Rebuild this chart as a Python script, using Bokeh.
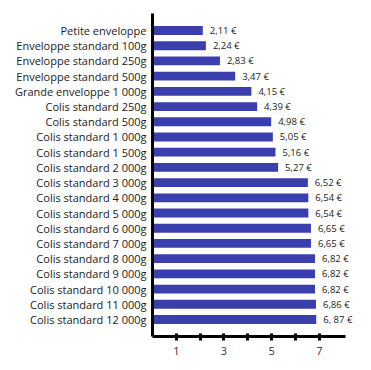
from bokeh.plotting import figure
from bokeh.models import Range1d, FactorRange, ColumnDataSource, FixedTicker, LabelSet
from bokeh.core.properties import value
from bokeh.embed import file_html
from bokeh.resources import INLINE

categories = [
    "Petite enveloppe", "Enveloppe standard 100g", "Enveloppe standard 250g",
    "Enveloppe standard 500g", "Grande enveloppe 1 000g", "Colis standard 250g",
    "Colis standard 500g", "Colis standard 1 000g", "Colis standard 1 500g",
    "Colis standard 2 000g", "Colis standard 3 000g", "Colis standard 4 000g",
    "Colis standard 5 000g", "Colis standard 6 000g", "Colis standard 7 000g",
    "Colis standard 8 000g", "Colis standard 9 000g", "Colis standard 10 000g",
    "Colis standard 11 000g", "Colis standard 12 000g",
]
prices = [2.11, 2.24, 2.83, 3.47, 4.15, 4.39, 4.98, 5.05, 5.16, 5.27,
          6.52, 6.54, 6.54, 6.65, 6.65, 6.82, 6.82, 6.82, 6.86, 6.87]
price_labels = ["2,11 €", "2,24 €", "2,83 €", "3,47 €", "4,15 €", "4,39 €",
                "4,98 €", "5,05 €", "5,16 €", "5,27 €", "6,52 €", "6,54 €",
                "6,54 €", "6,65 €", "6,65 €", "6,82 €", "6,82 €", "6,82 €",
                "6,86 €", "6, 87 €"]
tick_values = [1, 2, 3, 4, 5, 6, 7]
tick_labels = {1: "1", 2: "", 3: "3", 4: "", 5: "5", 6: "", 7: "7"}

FONT = "Open Sans"
BAR = "#3b3fad"

src = ColumnDataSource(dict(cat=categories, price=prices, lab=price_labels))

p = figure(width=371, height=370, output_backend="svg", toolbar_location=None,
           x_range=Range1d(0, 9.19),
           y_range=FactorRange(factors=list(reversed(categories)),
                               range_padding=0.62, range_padding_units="absolute"),
           min_border_left=152, min_border_top=13, min_border_bottom=34,
           min_border_right=0)
p.outline_line_color = None
p.grid.visible = False
p.background_fill_color = "white"
p.border_fill_color = "white"

p.hbar(y="cat", right="price", left=0, height=0.58, source=src,
       fill_color=BAR, line_color=None)
labels = LabelSet(x="price", y="cat", text="lab", source=src, x_offset=7,
                  text_baseline="middle", text_align="left",
                  text_font_size=value("9.5px"), text_color=value("#222222"),
                  text_font=value(FONT))
p.add_layout(labels)

xa = p.xaxis[0]
xa.bounds = (0, 8.1)
xa.ticker = FixedTicker(ticks=tick_values)
xa.major_label_overrides = tick_labels
xa.axis_line_width = 3
xa.axis_line_color = "black"
xa.major_tick_line_width = 3
xa.major_tick_in = 3
xa.major_tick_out = 4
xa.minor_tick_line_color = None
xa.major_label_text_font = FONT
xa.major_label_text_font_size = "11px"
xa.major_label_text_color = "#333333"
xa.major_label_standoff = 6

ya = p.yaxis[0]
ya.axis_line_width = 3
ya.axis_line_color = "black"
ya.major_tick_line_color = None
ya.minor_tick_line_color = None
ya.major_label_text_font = FONT
ya.major_label_text_font_size = "11px"
ya.major_label_text_color = "#1a1a1a"
ya.major_label_standoff = 0

open("out.html", "w").write(file_html(p, INLINE))
